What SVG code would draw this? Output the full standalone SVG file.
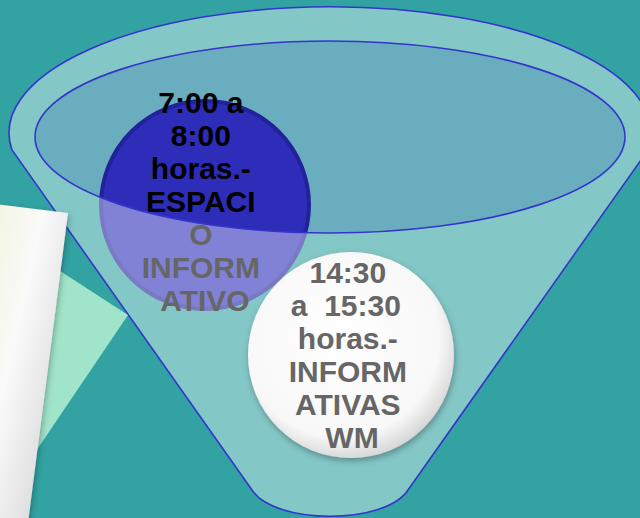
<svg xmlns="http://www.w3.org/2000/svg" width="640" height="518" viewBox="0 0 640 518">
<style>
.t{font-family:"Liberation Sans",Arial,sans-serif;font-weight:bold;font-size:30px;text-anchor:middle}
.edge{fill:none;stroke:#3535CC;stroke-width:1.6}
</style>
<defs>
<radialGradient id="wg" cx="0.45" cy="0.42" r="0.6">
<stop offset="0" stop-color="#FFFFFF"/>
<stop offset="0.8" stop-color="#F8F8F8"/>
<stop offset="1" stop-color="#D4D4D4"/>
</radialGradient>
<linearGradient id="pg" x1="0" y1="0" x2="1" y2="1">
<stop offset="0" stop-color="#F2F5E2"/>
<stop offset="0.35" stop-color="#FAFAFA"/>
<stop offset="1" stop-color="#CCCCCC"/>
</linearGradient>
<filter id="sh" x="-20%" y="-20%" width="140%" height="140%">
<feDropShadow dx="1" dy="3" stdDeviation="3" flood-color="#000" flood-opacity="0.3"/>
</filter>
</defs>
<rect width="640" height="518" fill="#32A2A2"/>
<g id="funnel-opening">
<ellipse cx="330" cy="137" rx="295" ry="96" fill="#69ADBE"/>
</g>
<g id="node-morning">
<circle cx="205" cy="205" r="104" fill="#2D2DBA" stroke="#22229A" stroke-width="4"/>
<text class="t" x="205" fill="#000">
<tspan x="205" y="113">7:00 a</tspan>
<tspan x="205" y="146">8:00</tspan>
<tspan x="205" y="179">horas.-</tspan>
<tspan x="205" y="212">ESPACI</tspan>
<tspan x="205" y="245">O</tspan>
<tspan x="205" y="278">INFORM</tspan>
<tspan x="205" y="311">ATIVO</tspan>
</text>
</g>
<g id="funnel">
<path d="M12,150 A321,126 0 1 1 648,150 L408,490 C385,525 275,525 252,490 Z M35,137 A295,96 0 1 0 625,137 A295,96 0 1 0 35,137 Z" fill="#FFFFFF" fill-opacity="0.4" fill-rule="evenodd"/>
<path class="edge" d="M12,150 A321,126 0 1 1 648,150 L408,490 C385,525 275,525 252,490 Z"/>
<ellipse class="edge" cx="330" cy="137" rx="295" ry="96"/>
</g>
<g id="paper">
<polygon points="20,245 128,315 30,460" fill="#A0E4CA"/>
<polygon points="-5,204 68,213 28,523 -5,523" fill="url(#pg)" filter="url(#sh)"/>
</g>
<g id="node-afternoon">
<circle cx="351" cy="355" r="103" fill="url(#wg)" filter="url(#sh)"/>
<text class="t" fill="#666666">
<tspan x="352" y="283">14:30</tspan>
<tspan x="350" y="316">a&#160; 15:30</tspan>
<tspan x="352" y="349">horas.-</tspan>
<tspan x="352" y="382">INFORM</tspan>
<tspan x="352" y="415">ATIVAS</tspan>
<tspan x="352" y="448">WM</tspan>
</text>
</g>
</svg>
